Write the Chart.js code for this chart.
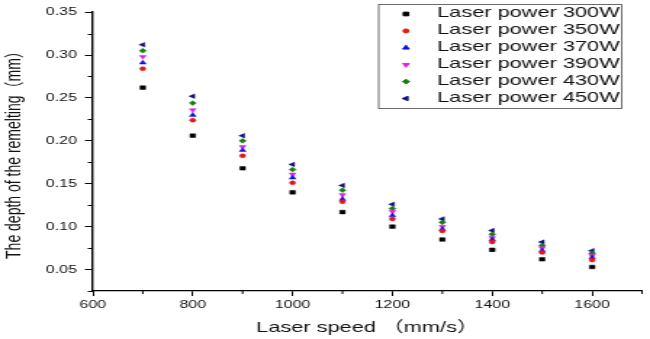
<!DOCTYPE html>
<html><head><meta charset="utf-8">
<script src="https://cdn.jsdelivr.net/npm/chart.js@4/dist/chart.umd.min.js"></script>
<style>
html,body{margin:0;padding:0;background:#fff;overflow:hidden}
#wrap{width:650px;height:339px;overflow:hidden;position:relative}
#c{position:absolute;left:0;top:0;transform:scaleX(1.4509);transform-origin:0 0}
</style></head><body>
<div id="wrap"><canvas id="c" width="448" height="339" style="width:448px;height:339px"></canvas></div>
<script>
const speeds = [700, 800, 900, 1000, 1100, 1200, 1300, 1400, 1500, 1600];
const p300 = [0.262, 0.206, 0.168, 0.140, 0.117, 0.100, 0.085, 0.073, 0.062, 0.053];
const p350 = [0.284, 0.224, 0.1825, 0.151, 0.129, 0.109, 0.095, 0.082, 0.070, 0.061];
const p370 = [0.291, 0.230, 0.189, 0.157, 0.132, 0.113, 0.097, 0.085, 0.072, 0.064];
const p390 = [0.298, 0.236, 0.193, 0.161, 0.137, 0.1175, 0.100, 0.087, 0.075, 0.066];
const p430 = [0.305, 0.244, 0.200, 0.1665, 0.1425, 0.121, 0.105, 0.091, 0.078, 0.069];
const p450 = [0.312, 0.252, 0.206, 0.1725, 0.148, 0.126, 0.109, 0.0955, 0.082, 0.072];
const seriesLabels = ['Laser power 300W','Laser power 350W','Laser power 370W','Laser power 390W','Laser power 430W','Laser power 450W'];
const xTitle = 'Laser speed （mm/s）';
const yTitle = 'The depth of the remelting（mm）';

const styles = [
  {color:'#000000', pointStyle:'rect', rotation:0, radius:2.6},
  {color:'#e01818', pointStyle:'circle', rotation:0, radius:2.0},
  {color:'#1010e0', pointStyle:'triangle', rotation:0, radius:2.6},
  {color:'#e020e0', pointStyle:'triangle', rotation:180, radius:2.6},
  {color:'#108010', pointStyle:'rectRot', rotation:0, radius:2.4},
  {color:'#101080', pointStyle:'triangle', rotation:-90, radius:2.6}
];
const values = [p300, p350, p370, p390, p430, p450];

const datasets = values.map((vals, i) => ({
  label: seriesLabels[i],
  data: speeds.map((s, j) => ({x: s, y: vals[j]})),
  showLine: false,
  pointStyle: styles[i].pointStyle,
  rotation: styles[i].rotation,
  pointRadius: styles[i].radius,
  pointHoverRadius: styles[i].radius,
  backgroundColor: styles[i].color,
  borderColor: styles[i].color,
  borderWidth: 0.5
}));

const FONT = '"Liberation Sans", Arial, "Noto Sans CJK SC", sans-serif';
const isMajorY = v => Math.abs(v / 0.05 - Math.round(v / 0.05)) < 1e-6;
const isMajorX = v => Math.abs(v / 200 - Math.round(v / 200)) < 1e-6;

const minorTicks = {
  id: 'minorTicks',
  afterDraw(chart) {
    const ctx = chart.ctx;
    ctx.save();
    ctx.strokeStyle = '#000';
    ctx.lineWidth = 1;
    const ys = chart.scales.y;
    ys.ticks.forEach(t => {
      if (!isMajorY(t.value)) {
        const py = Math.round(ys.getPixelForValue(t.value)) + 0.5;
        ctx.beginPath(); ctx.moveTo(ys.right - 3.5, py); ctx.lineTo(ys.right, py); ctx.stroke();
      }
    });
    const xs = chart.scales.x;
    xs.ticks.forEach(t => {
      if (!isMajorX(t.value)) {
        const px = xs.getPixelForValue(t.value);
        ctx.beginPath(); ctx.moveTo(px, xs.top); ctx.lineTo(px, xs.top + 3); ctx.stroke();
      }
    });
    ctx.restore();
  }
};

const boxLegend = {
  id: 'boxLegend',
  afterDraw(chart) {
    const ctx = chart.ctx;
    const area = chart.chartArea;
    const w = 167.5, h = 104;
    const left = area.right - 14.5 - w, top = 4;
    ctx.save();
    ctx.strokeStyle = '#6a6a6a';
    ctx.lineWidth = 1;
    ctx.strokeRect(left + 0.5, top + 0.5, w, h);
    ctx.font = '15px ' + FONT;
    ctx.textBaseline = 'middle';
    ctx.textAlign = 'left';
    chart.data.datasets.forEach((ds, i) => {
      const y = top + 10 + i * 16.9;
      ctx.fillStyle = ds.backgroundColor;
      ctx.strokeStyle = ds.borderColor;
      Chart.helpers.drawPoint(ctx, {pointStyle: ds.pointStyle, rotation: ds.rotation, radius: ds.pointRadius, borderWidth: 0.5}, left + 19.3, y);
      ctx.fillStyle = '#111';
      ctx.fillText(ds.label, left + 40.7, y - 1);
    });
    ctx.restore();
  }
};

new Chart(document.getElementById('c'), {
  type: 'scatter',
  data: {datasets},
  options: {
    responsive: false,
    animation: false,
    devicePixelRatio: 1,
    layout: {padding: {top: 7, right: 5.5, left: 0, bottom: 0}},
    plugins: {legend: {display: false}, tooltip: {enabled: false}},
    scales: {
      x: {
        type: 'linear', min: 600, max: 1700,
        afterFit: s => { s.height = 48; },
        border: {display: true, color: '#000', width: 1.3},
        grid: {drawOnChartArea: false, drawTicks: true, tickLength: 5,
               tickColor: c => (c.tick && isMajorX(c.tick.value)) ? '#000' : 'rgba(0,0,0,0)'},
        ticks: {stepSize: 100, autoSkip: false, maxRotation: 0, padding: 2, color: '#111',
                font: {family: FONT, size: 11},
                callback: v => isMajorX(v) ? String(v) : ''},
        title: {display: true, text: xTitle, color: '#111', font: {family: FONT, size: 15},
                padding: {top: 0, bottom: 2}}
      },
      y: {
        type: 'linear', min: 0.025, max: 0.35,
        afterFit: s => { s.width = 64; },
        border: {display: true, color: '#000', width: 1.4},
        grid: {drawOnChartArea: false, drawTicks: true, tickLength: 5.5,
               tickColor: c => (c.tick && isMajorY(c.tick.value)) ? '#000' : 'rgba(0,0,0,0)'},
        ticks: {stepSize: 0.025, autoSkip: false, padding: 5.5, color: '#111',
                font: {family: FONT, size: 11},
                callback: v => isMajorY(v) ? v.toFixed(2) : ''},
        title: {display: true, text: yTitle, color: '#111', font: {family: FONT, size: 14},
                padding: {top: 2, bottom: 0}}
      }
    }
  },
  plugins: [minorTicks, boxLegend]
});
</script>
</body></html>
